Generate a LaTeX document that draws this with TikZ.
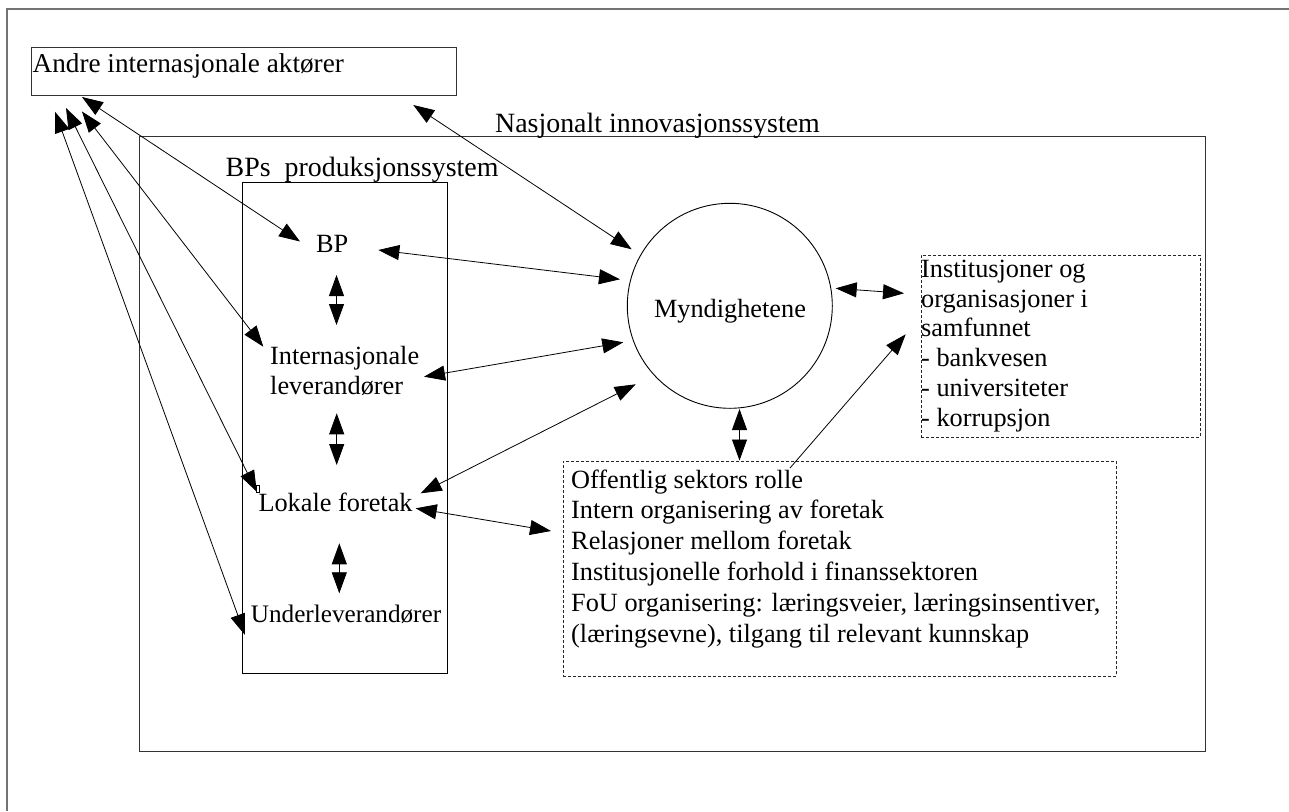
\documentclass[tikz,border=0pt]{standalone}
\usepackage{fontspec}
\setmainfont{Liberation Serif}
\usetikzlibrary{arrows.meta}
\newcommand\mylines[1]{\begin{tabular}[t]{@{}l@{}}#1\end{tabular}}
\begin{document}
\begin{tikzpicture}[x=1pt,y=-1pt,
  txt/.style={inner sep=0pt, anchor=base west, font=\fontsize{26.3}{30}\selectfont},
  bigtxt/.style={txt, font=\fontsize{27.9}{32}\selectfont},
  boxframe/.style={draw=black!80, line width=0.9pt, inner sep=0pt, anchor=north west},
  dbox/.style={draw=black!85, line width=0.8pt, dash pattern=on 3pt off 2pt, inner sep=0pt, anchor=north west},
  link/.style={line width=0.8pt, {Triangle[length=21pt,width=15pt]}-{Triangle[length=21pt,width=15pt]}},
  onelink/.style={line width=0.8pt, -{Triangle[length=21pt,width=15pt]}}
]
\useasboundingbox (0,0) rectangle (1289,811);
\fill[white] (0,0) rectangle (1289,811);
% outer frame (top and left only)
\draw[black!55, line width=1.8pt] (7,811) -- (7,9) -- (1289,9);

% boxes
\node[boxframe, minimum width=425pt, minimum height=48pt] (andre) at (31,47) {};
\node[boxframe, minimum width=1066pt, minimum height=615pt] (nis) at (139,136) {};
\node[boxframe, draw=black, minimum width=205pt, minimum height=490.5pt] (bps) at (242,182) {};
\node[dbox, minimum width=279pt, minimum height=182pt] (inst) at (921,255) {};
\node[dbox, minimum width=553pt, minimum height=215pt] (off) at (563,461) {};
\node[circle, draw, line width=0.9pt, minimum size=205pt, inner sep=0pt] (myn) at (729.8,305.8) {};
\node[draw, line width=0.5pt, minimum width=3pt, minimum height=6.5pt, inner sep=0pt, anchor=north west] (tick) at (256,485) {};

% labels
\node[bigtxt, font=\fontsize{27.2}{32}\selectfont] (andrelabel) at (32.5,72.7) {Andre internasjonale aktører};
\node[bigtxt] (nislabel) at (495,132) {Nasjonalt innovasjonssystem};
\node[bigtxt] (bpslabel) at (225.5,176) {BPs\ \ produksjonssystem};
\node[txt, anchor=base] (mynlabel) at (730,317.3) {Myndighetene};
\node[txt] (bp) at (316,252.7) {BP};
\node[txt] (intl) at (270,364) {\mylines{Internasjonale\\leverandører}};
\node[txt] (lok) at (258.3,511.7) {Lokale foretak};
\node[txt, font=\fontsize{25.2}{30}\selectfont] (under) at (250.7,622.7) {Underleverandører};
\node[txt, font=\fontsize{26.3}{29.75}\selectfont] (instlabel) at (921,277.3) {\mylines{Institusjoner og\\organisasjoner i\\samfunnet\\- bankvesen\\- universiteter\\- korrupsjon}};
\node[txt, font=\fontsize{26.3}{30.8}\selectfont] (offlabel) at (571,488) {\mylines{Offentlig sektors rolle\\Intern organisering av foretak\\Relasjoner mellom foretak\\Institusjonelle forhold i finanssektoren\\FoU organisering: læringsveier, læringsinsentiver,\\(læringsevne), tilgang til relevant kunnskap}};

% connector end points
\coordinate (andre-bp) at (82,97);
\coordinate (andre-int) at (82,111.5);
\coordinate (andre-lok) at (66,108);
\coordinate (andre-und) at (55,111.7);
\coordinate (andre-myn) at (413.3,105);
\coordinate (bp-andre) at (300,241.5);
\coordinate (int-andre) at (263.3,346.7);
\coordinate (lok-andre) at (256.7,491.7);
\coordinate (und-andre) at (245,635);
\coordinate (myn-andre) at (631.7,249.3);
\coordinate (bp-myn) at (378.3,250);
\coordinate (myn-bp) at (620,279.3);
\coordinate (int-myn) at (424,376.7);
\coordinate (myn-int) at (623.3,342.3);
\coordinate (lok-myn) at (420.7,493.3);
\coordinate (myn-lok) at (635.7,384.3);
\coordinate (lok-off) at (415.7,508.3);
\coordinate (off-lok) at (551,531);
\coordinate (myn-inst) at (835.7,288.3);
\coordinate (inst-myn) at (904,293.3);
\coordinate (myn-off) at (739.5,409);
\coordinate (off-myn) at (739.5,460.5);
\coordinate (off-inst) at (790,468);
\coordinate (inst-off) at (905.7,334.3);
\coordinate (bp-int) at (336.5,275);
\coordinate (int-bp) at (336.5,325);
\coordinate (int-lok) at (336.7,413.3);
\coordinate (lok-int) at (336.7,465);
\coordinate (lok-und) at (339.3,543.3);
\coordinate (und-lok) at (339.3,593.3);

% connectors
\draw[link] (andre-bp) -- (bp-andre);
\draw[link] (andre-int) -- (int-andre);
\draw[link] (andre-lok) -- (lok-andre);
\draw[link] (andre-und) -- (und-andre);
\draw[link] (andre-myn) -- (myn-andre);
\draw[link] (bp-myn) -- (myn-bp);
\draw[link] (int-myn) -- (myn-int);
\draw[link] (lok-myn) -- (myn-lok);
\draw[link] (lok-off) -- (off-lok);
\draw[link] (myn-inst) -- (inst-myn);
\draw[link] (myn-off) -- (off-myn);
\draw[onelink] (off-inst) -- (inst-off);
\draw[link] (bp-int) -- (int-bp);
\draw[link] (int-lok) -- (lok-int);
\draw[link] (lok-und) -- (und-lok);
\end{tikzpicture}
\end{document}
